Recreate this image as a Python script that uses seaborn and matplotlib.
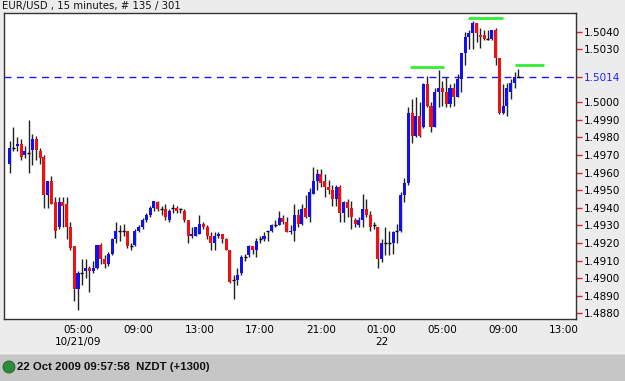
import numpy as np
import pandas as pd
import matplotlib
matplotlib.use("Agg")
import matplotlib.pyplot as plt
import seaborn as sns
from matplotlib.patches import Rectangle, Ellipse

# EUR/USD 15 minute bars (first bar 00:30 on 10/21)
opens = [1.4965, 1.4974, 1.4975, 1.4976, 1.4970, 1.4971, 1.4973, 1.4979, 1.4972, 1.4969,
         1.4947, 1.4955, 1.4943, 1.4929, 1.4943, 1.4942, 1.4929, 1.4918, 1.4894, 1.4903,
         1.4904, 1.4906, 1.4904, 1.4906, 1.4919, 1.4911, 1.4908, 1.4914, 1.4922, 1.4927,
         1.4927, 1.4927, 1.4918, 1.4919, 1.4927, 1.4929, 1.4933, 1.4936, 1.4940, 1.4943,
         1.4939, 1.4939, 1.4933, 1.4940, 1.4940, 1.4939, 1.4938, 1.4933, 1.4924, 1.4924,
         1.4925, 1.4931, 1.4929, 1.4924, 1.4920, 1.4924, 1.4925, 1.4922, 1.4916, 1.4899,
         1.4899, 1.4903, 1.4912, 1.4913, 1.4918, 1.4916, 1.4922, 1.4922, 1.4927, 1.4927,
         1.4930, 1.4930, 1.4934, 1.4932, 1.4926, 1.4927, 1.4936, 1.4931, 1.4940, 1.4935,
         1.4948, 1.4955, 1.4959, 1.4955, 1.4952, 1.4950, 1.4945, 1.4952, 1.4937, 1.4943,
         1.4940, 1.4933, 1.4930, 1.4933, 1.4939, 1.4936, 1.4930, 1.4929, 1.4911, 1.4920,
         1.4920, 1.4920, 1.4927, 1.4927, 1.4947, 1.4954, 1.4994, 1.4981, 1.4992, 1.4986,
         1.5010, 1.4998, 1.4986, 1.5006, 1.5008, 1.5006, 1.4999, 1.5008, 1.5003, 1.5013,
         1.5028, 1.5037, 1.5039, 1.5045, 1.5038, 1.5038, 1.5036, 1.5036, 1.5041, 1.5025,
         1.4994, 1.4998, 1.5006, 1.5011, 1.5014]
highs = [1.4978, 1.4986, 1.4980, 1.4979, 1.4975, 1.4990, 1.4982, 1.4981, 1.4974, 1.4970,
         1.4955, 1.4958, 1.4946, 1.4946, 1.4946, 1.4946, 1.4932, 1.4918, 1.4904, 1.4911,
         1.4911, 1.4907, 1.4910, 1.4919, 1.4920, 1.4913, 1.4915, 1.4923, 1.4932, 1.4930,
         1.4931, 1.4927, 1.4920, 1.4928, 1.4930, 1.4934, 1.4937, 1.4941, 1.4944, 1.4944,
         1.4941, 1.4942, 1.4939, 1.4942, 1.4941, 1.4940, 1.4939, 1.4933, 1.4929, 1.4929,
         1.4936, 1.4932, 1.4930, 1.4926, 1.4926, 1.4926, 1.4925, 1.4923, 1.4916, 1.4902,
         1.4906, 1.4913, 1.4914, 1.4919, 1.4918, 1.4923, 1.4924, 1.4926, 1.4927, 1.4931,
         1.4933, 1.4938, 1.4936, 1.4935, 1.4930, 1.4942, 1.4939, 1.4942, 1.4947, 1.4951,
         1.4963, 1.4962, 1.4962, 1.4959, 1.4956, 1.4953, 1.4953, 1.4953, 1.4944, 1.4945,
         1.4944, 1.4934, 1.4935, 1.4948, 1.4945, 1.4938, 1.4932, 1.4929, 1.4922, 1.4929,
         1.4927, 1.4927, 1.4931, 1.4949, 1.4957, 1.4997, 1.5002, 1.5003, 1.5000, 1.5011,
         1.5015, 1.5000, 1.5008, 1.5018, 1.5012, 1.5014, 1.5010, 1.5011, 1.5016, 1.5028,
         1.5040, 1.5041, 1.5046, 1.5045, 1.5042, 1.5041, 1.5041, 1.5041, 1.5042, 1.5025,
         1.5010, 1.5011, 1.5013, 1.5017, 1.5019]
lows = [1.4960, 1.4972, 1.4972, 1.4967, 1.4968, 1.4960, 1.4964, 1.4967, 1.4965, 1.4940,
        1.4940, 1.4942, 1.4923, 1.4928, 1.4929, 1.4922, 1.4916, 1.4887, 1.4882, 1.4896,
        1.4900, 1.4892, 1.4903, 1.4905, 1.4908, 1.4906, 1.4907, 1.4913, 1.4920, 1.4921,
        1.4924, 1.4917, 1.4916, 1.4918, 1.4926, 1.4928, 1.4932, 1.4935, 1.4938, 1.4938,
        1.4936, 1.4933, 1.4932, 1.4937, 1.4937, 1.4937, 1.4932, 1.4920, 1.4923, 1.4924,
        1.4925, 1.4928, 1.4922, 1.4916, 1.4916, 1.4923, 1.4920, 1.4916, 1.4897, 1.4888,
        1.4896, 1.4902, 1.4910, 1.4912, 1.4914, 1.4912, 1.4920, 1.4921, 1.4921, 1.4926,
        1.4929, 1.4930, 1.4931, 1.4926, 1.4925, 1.4921, 1.4929, 1.4930, 1.4934, 1.4932,
        1.4948, 1.4950, 1.4952, 1.4946, 1.4948, 1.4941, 1.4941, 1.4932, 1.4932, 1.4935,
        1.4928, 1.4929, 1.4929, 1.4929, 1.4935, 1.4927, 1.4928, 1.4906, 1.4909, 1.4913,
        1.4913, 1.4914, 1.4920, 1.4926, 1.4943, 1.4953, 1.4977, 1.4980, 1.4980, 1.4985,
        1.4997, 1.4983, 1.4986, 1.4997, 1.4998, 1.4997, 1.4997, 1.4998, 1.5003, 1.5006,
        1.5021, 1.5030, 1.5030, 1.5034, 1.5031, 1.5035, 1.5035, 1.5035, 1.5021, 1.4993,
        1.4993, 1.4992, 1.5002, 1.5008, 1.5014]
closes = [1.4974, 1.4974, 1.4976, 1.4969, 1.4972, 1.4971, 1.4979, 1.4973, 1.4968, 1.4947,
          1.4955, 1.4942, 1.4927, 1.4943, 1.4941, 1.4929, 1.4917, 1.4894, 1.4903, 1.4903,
          1.4906, 1.4904, 1.4906, 1.4919, 1.4911, 1.4908, 1.4914, 1.4922, 1.4927, 1.4927,
          1.4927, 1.4918, 1.4918, 1.4927, 1.4929, 1.4933, 1.4936, 1.4940, 1.4944, 1.4939,
          1.4939, 1.4935, 1.4938, 1.4940, 1.4938, 1.4939, 1.4933, 1.4924, 1.4925, 1.4929,
          1.4931, 1.4929, 1.4924, 1.4920, 1.4924, 1.4925, 1.4922, 1.4916, 1.4898, 1.4899,
          1.4902, 1.4912, 1.4912, 1.4918, 1.4916, 1.4921, 1.4922, 1.4924, 1.4927, 1.4930,
          1.4930, 1.4934, 1.4932, 1.4926, 1.4927, 1.4936, 1.4931, 1.4939, 1.4935, 1.4949,
          1.4955, 1.4959, 1.4954, 1.4952, 1.4950, 1.4945, 1.4952, 1.4937, 1.4943, 1.4940,
          1.4935, 1.4931, 1.4933, 1.4939, 1.4936, 1.4929, 1.4930, 1.4911, 1.4920, 1.4920,
          1.4920, 1.4926, 1.4927, 1.4947, 1.4954, 1.4994, 1.4981, 1.4992, 1.4981, 1.5010,
          1.4998, 1.4986, 1.5006, 1.5008, 1.5006, 1.4999, 1.5008, 1.5003, 1.5013, 1.5028,
          1.5037, 1.5039, 1.5045, 1.5039, 1.5037, 1.5036, 1.5036, 1.5041, 1.5025, 1.4994,
          1.4998, 1.5008, 1.5011, 1.5014, 1.5014]

bid_price = 1.5014
# green marker lines: (start hour, end hour, price), hours counted from 00:00 10/21
level_starts = [26.85, 30.70, 33.80]
level_ends = [29.10, 33.00, 35.70]
level_prices = [1.50201, 1.50476, 1.50213]

xtick_hours = [5, 9, 13, 17, 21, 25, 29, 33, 37]
xtick_labels = ["05:00\n10/21/09", "09:00", "13:00", "17:00", "21:00", "01:00\n22",
                "05:00", "09:00", "13:00"]
ytick_values = [1.4880, 1.4890, 1.4900, 1.4910, 1.4920, 1.4930, 1.4940, 1.4950,
                1.4960, 1.4970, 1.4980, 1.4990, 1.5000, 1.5014, 1.5030, 1.5040]

df = pd.DataFrame({"open": opens, "high": highs, "low": lows, "close": closes})
df["hour"] = 0.5 + 0.25 * np.arange(len(df))
df["dir"] = np.sign(df["close"] - df["open"])

sns.set_style("white")
plt.rcParams["font.family"] = ["DejaVu Sans"]

W, H = 625, 381
fig = plt.figure(figsize=(W / 100, H / 100), dpi=100)
fig.patch.set_facecolor("#ececec")
ax = fig.add_axes([4 / W, 1 - 319 / H, 572 / W, 306 / H])
ax.set_facecolor("white")

# wicks
ax.vlines(df["hour"], df["low"], df["high"], color="#222222", linewidth=1, zorder=2)
# bodies
body_w = 0.2
up = df[df["dir"] > 0]
dn = df[df["dir"] < 0]
eq = df[df["dir"] == 0]
ax.bar(up["hour"], up["close"] - up["open"], bottom=up["open"], width=body_w,
       color="#1010f0", linewidth=0, zorder=3)
ax.bar(dn["hour"], dn["open"] - dn["close"], bottom=dn["close"], width=body_w,
       color="#f01010", linewidth=0, zorder=3)
ax.hlines(eq["close"], eq["hour"] - body_w / 2, eq["hour"] + body_w / 2,
          color="black", linewidth=1, zorder=3)

ax.axhline(bid_price, color="#1a1aee", linewidth=1, linestyle=(0, (5, 4)), zorder=1)
ax.hlines(level_prices, level_starts, level_ends, color="#33ee33", linewidth=2.0, zorder=4)

ax.set_xlim(0.125, 37.8)
ax.set_ylim(1.48768, 1.50506)

ax.yaxis.tick_right()
ax.set_yticks(ytick_values)
ax.set_yticklabels([f"{v:.4f}" for v in ytick_values])
ax.tick_params(axis="y", colors="#dd2222", labelcolor="black", length=4, width=1,
               labelsize=7.5, pad=1.5)
for lab, v in zip(ax.get_yticklabels(), ytick_values):
    if abs(v - bid_price) < 1e-6:
        lab.set_color("#2222ff")

ax.set_xticks(xtick_hours)
ax.set_xticklabels(xtick_labels, linespacing=1.35)
ax.tick_params(axis="x", colors="#dd2222", labelcolor="black", length=3, width=1,
               labelsize=7.5, pad=1)
for lab in ax.get_xticklabels():
    lab.set_verticalalignment("top")

for s in ax.spines.values():
    s.set_color("#333333")
    s.set_linewidth(1)

fig.text(2 / W, 1 - 6.5 / H, "EUR/USD , 15 minutes, # 135 / 301", fontsize=7.3,
         va="center", ha="left", color="#111111")

# status bar
fig.patches.append(Rectangle((0, 0), 1, 26 / H, transform=fig.transFigure,
                             facecolor="#c6c6c6", edgecolor="none", zorder=0))
fig.patches.append(Rectangle((0, 26 / H), 1, 1.5 / H, transform=fig.transFigure,
                             facecolor="#dadada", edgecolor="none", zorder=0))
fig.patches.append(Ellipse((9 / W, 14 / H), 12 / W, 12 / H, transform=fig.transFigure,
                           facecolor="#2e8b3a", edgecolor="#1d5e26", linewidth=0.6,
                           zorder=1))
fig.text(17 / W, 14 / H, "22 Oct 2009 09:57:58  NZDT (+1300)", fontsize=8.2,
         fontweight="bold", family=["Liberation Sans", "DejaVu Sans"],
         va="center", ha="left", color="#111111")

fig.savefig("out.png", dpi=100, facecolor=fig.get_facecolor())
